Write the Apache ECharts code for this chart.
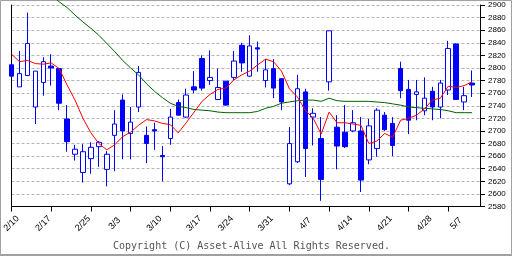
<!DOCTYPE html>
<html>
<head>
<meta charset="utf-8">
<script src="https://cdn.jsdelivr.net/npm/echarts@6/dist/echarts.min.js"></script>
<style>
html,body{margin:0;padding:0;background:#fff;}
#c{width:512px;height:256px;}
</style>
</head>
<body>
<div id="c"></div>
<script>
// Trading days (one slot per day); last slot left empty as right padding
const dates = ['2/10','2/12','2/13','2/14','2/17','2/18','2/19','2/20','2/21','2/25','2/26','2/27','2/28',
  '3/3','3/4','3/5','3/6','3/7','3/10','3/11','3/12','3/13','3/14','3/17','3/18','3/19','3/21',
  '3/24','3/25','3/26','3/27','3/28','3/31','4/1','4/2','4/3','4/4','4/7','4/8','4/9','4/10','4/11',
  '4/14','4/15','4/16','4/17','4/18','4/21','4/22','4/23','4/24','4/25','4/28','4/30','5/1','5/2',
  '5/7','5/8','5/9',''];
const tickLabels = ['2/10','2/17','2/25','3/3','3/10','3/17','3/24','3/31','4/7','4/14','4/21','4/28','5/7'];
// [open, close, low, high]
const ohlc = [
  [2805,2787,2785,2806],[2770,2791,2770,2827],[2788,2839,2788,2888],[2738,2795,2711,2795],
  [2777,2810,2756,2817],[2803,2800,2772,2822],[2799,2744,2733,2799],[2719,2683,2667,2741],
  [2663,2671,2653,2678],[2634,2667,2618,2679],[2656,2674,2632,2682],[2675,2682,2643,2684],
  [2639,2663,2612,2668],[2693,2711,2636,2733],[2749,2700,2655,2758],[2696,2714,2655,2738],
  [2738,2793,2730,2803],[2693,2680,2649,2707],[2702,2700,2670,2713],[2661,2659,2620,2676],
  [2688,2722,2678,2735],[2745,2725,2725,2750],[2722,2757,2721,2767],[2770,2765,2760,2795],
  [2815,2768,2764,2820],[2780,2785,2773,2828],[2750,2769,2749,2799],[2779,2741,2740,2779],
  [2785,2811,2781,2827],[2836,2808,2794,2840],[2787,2835,2786,2852],[2832,2830,2794,2842],
  [2780,2797,2769,2814],[2799,2768,2752,2814],[2783,2746,2733,2783],[2616,2680,2614,2706],
  [2651,2767,2649,2789],[2762,2672,2627,2767],[2722,2728,2677,2736],[2688,2623,2589,2722],
  [2778,2859,2764,2859],[2706,2676,2639,2725],[2698,2675,2673,2741],[2700,2713,2698,2733],
  [2700,2622,2603,2722],[2654,2708,2647,2719],[2672,2733,2659,2736],[2725,2702,2700,2730],
  [2712,2677,2660,2722],[2799,2764,2752,2810],[2766,2717,2695,2781],[2758,2762,2717,2781],
  [2732,2752,2725,2785],[2763,2738,2717,2770],[2738,2776,2720,2781],[2765,2831,2757,2843],
  [2838,2750,2750,2839],[2746,2756,2733,2770],[2776,2773,2754,2796]
];
const maShort = [2822,2810,2812,2807,2806,2808,2799,2773,2749,2720,2697,2680,2670,2678,2691,2698,
  2709,2718,2716,2712,2710,2697,2713,2730,2747,2758,2766,2768,2781,2789,2795,2805,2814,2810,2795,
  2767,2754,2733,2720,2695,2730,2713,2713,2711,2709,2680,2684,2696,2690,2717,2720,2725,2735,2749,
  2752,2771,2769,2772,2778];
const maLong = [null,null,null,null,null,2916,2905,2896,2884,2873,2863,2852,2839,2826,2812,2800,
  2789,2775,2763,2753,2744,2739,2737,2734,2733,2732,2730,2729,2729,2729,2729,2731,2736,2739,2744,
  2746,2748,2749,2749,2747,2752,2748,2747,2747,2747,2747,2746,2745,2743,2741,2738,2737,2736,2735,
  2734,2732,2729,2729,2729];
const yMin = 2580, yMax = 2900, yStep = 20;

const chart = echarts.init(document.getElementById('c'), null, {renderer:'canvas'});
const blue = '#0000ff';
chart.setOption({
  animation: false,
  backgroundColor: '#fff',
  grid: {left: 10, right: 32, top: 5, bottom: 49.5},
  xAxis: {
    type: 'category', data: dates, boundaryGap: false,
    axisLine: {lineStyle: {color: '#000', width: 1}},
    axisTick: {show: true, interval: 4, length: 5, lineStyle: {color: '#000'}},
    axisLabel: {
      interval: (i, v) => tickLabels.includes(v),
      rotate: 45, align: 'center', verticalAlign: 'middle', margin: 17,
      fontSize: 9, color: '#000', fontFamily: 'Liberation Sans, Arial, sans-serif'
    },
    splitLine: {show: false}
  },
  yAxis: [{
    type: 'value', position: 'right', min: yMin, max: yMax, interval: yStep,
    axisLine: {show: true, lineStyle: {color: '#000'}},
    axisTick: {show: true, length: 5, lineStyle: {color: '#000'}},
    axisLabel: {margin: 8, fontSize: 8, color: '#000', fontFamily: 'Liberation Sans, Arial, sans-serif',
      formatter: v => String(v)},
    splitLine: {show: true, lineStyle: {color: '#b4b4b4', type: [3, 2], width: 1}}
  }, {
    type: 'value', position: 'left', min: yMin, max: yMax, interval: yStep,
    axisLine: {show: true, lineStyle: {color: '#000'}},
    axisTick: {show: false}, axisLabel: {show: false}, splitLine: {show: false}
  }],
  series: [{
    type: 'candlestick', data: ohlc, barWidth: 5, clip: false,
    itemStyle: {color: '#fff', color0: blue, borderColor: blue, borderColor0: blue, borderWidth: 1}
  }, {
    type: 'line', data: maLong, showSymbol: false, symbol: 'none', clip: false,
    lineStyle: {color: '#006400', width: 1}, z: 3
  }, {
    type: 'line', data: maShort, showSymbol: false, symbol: 'none', clip: false,
    lineStyle: {color: '#ff0000', width: 1}, z: 4
  }],
  graphic: [
    {type: 'text', left: 113, top: 241, style: {text: 'Copyright (C) Asset-Alive All Rights Reserved.',
      font: '10px "DejaVu Sans Mono", monospace', fill: '#555'}},
    {type: 'rect', shape: {x: 0.5, y: 0.5, width: 511, height: 254}, style: {fill: 'none', stroke: '#a0a0a0', lineWidth: 1}, silent: true},
    {type: 'line', shape: {x1: 0, y1: 255.5, x2: 512, y2: 255.5}, style: {stroke: '#a0a0a0', lineWidth: 1}, silent: true}
  ]
});
</script>
</body>
</html>
